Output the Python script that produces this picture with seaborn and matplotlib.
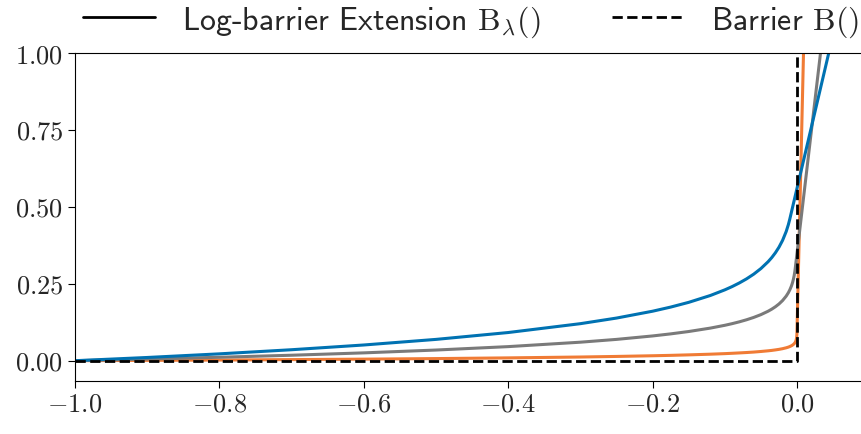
import matplotlib
matplotlib.use('Agg')
import matplotlib.pyplot as plt
from matplotlib.lines import Line2D
from matplotlib.ticker import FuncFormatter, FixedLocator
import seaborn as sns

# values
x_vals = [-1.0, -0.9, -0.8, -0.7, -0.6, -0.5, -0.4, -0.3, -0.25, -0.2, -0.175, -0.15,
          -0.12, -0.1, -0.09, -0.08, -0.07, -0.06, -0.05, -0.04, -0.035, -0.03, -0.025,
          -0.02, -0.015, -0.012, -0.01, -0.008, -0.007, -0.006, -0.005, -0.004, -0.003,
          -0.0025, -0.0015, -0.001, -0.0005, -0.0002, -0.0001, 0.0, 0.05]
ext_t10 = [0.0, 0.0105, 0.0223, 0.0357, 0.0511, 0.0693, 0.0916, 0.1204, 0.1386, 0.1609,
           0.1743, 0.1897, 0.2120, 0.2303, 0.2408, 0.2526, 0.2659, 0.2813, 0.2996, 0.3219,
           0.3352, 0.3507, 0.3689, 0.3912, 0.4200, 0.4423, 0.4605, 0.4805, 0.4905, 0.5005,
           0.5105, 0.5205, 0.5305, 0.5355, 0.5455, 0.5505, 0.5555, 0.5585, 0.5595, 0.5605,
           1.0605]
ext_t20 = [0.0, 0.0053, 0.0112, 0.0178, 0.0255, 0.0347, 0.0458, 0.0602, 0.0693, 0.0805,
           0.0872, 0.0949, 0.1060, 0.1151, 0.1204, 0.1263, 0.1330, 0.1407, 0.1498, 0.1609,
           0.1676, 0.1753, 0.1844, 0.1956, 0.2100, 0.2211, 0.2303, 0.2414, 0.2481, 0.2558,
           0.2649, 0.2761, 0.2905, 0.2996, 0.3196, 0.3296, 0.3396, 0.3456, 0.3476, 0.3496,
           1.3496]
ext_t100 = [0.0, 0.0011, 0.0022, 0.0036, 0.0051, 0.0069, 0.0092, 0.0120, 0.0139, 0.0161,
            0.0174, 0.0190, 0.0212, 0.0230, 0.0241, 0.0253, 0.0266, 0.0281, 0.0300, 0.0322,
            0.0335, 0.0351, 0.0369, 0.0391, 0.0420, 0.0442, 0.0461, 0.0483, 0.0496, 0.0512,
            0.0530, 0.0552, 0.0581, 0.0599, 0.0650, 0.0691, 0.0760, 0.0852, 0.0921, 0.1021,
            5.1021]
barrier_x = [-1.0, 0.0, 0.0]
barrier_y = [0.0, 0.0, 1.0]

x_ticks = [-1.0, -0.8, -0.6, -0.4, -0.2, 0.0]
y_ticks = [0.0, 0.25, 0.5, 0.75, 1.0]

sns.set_style('ticks')
plt.rcParams['mathtext.fontset'] = 'cm'
plt.rcParams['font.family'] = ['cmss10', 'DejaVu Sans']
plt.rcParams['axes.unicode_minus'] = False

fig = plt.figure(figsize=(8.61, 4.35), dpi=100)
ax = fig.add_axes([0.0871, 0.1218, 0.9129, 0.754])

# extension curves for three values of t, then the hard barrier on top
sns.lineplot(x=x_vals, y=ext_t100, ax=ax, color='#f07b35', lw=2.2, estimator=None, sort=False)
sns.lineplot(x=x_vals, y=ext_t20, ax=ax, color='#7a7a7a', lw=2.2, estimator=None, sort=False)
sns.lineplot(x=x_vals, y=ext_t10, ax=ax, color='#0072b2', lw=2.2, estimator=None, sort=False)
sns.lineplot(x=barrier_x, y=barrier_y, ax=ax, color='black', lw=2, linestyle='--',
             estimator=None, sort=False)

ax.set_xlim(-1.0, 0.0886)
ax.set_ylim(-0.066, 1.0)
ax.xaxis.set_major_locator(FixedLocator(x_ticks))
ax.yaxis.set_major_locator(FixedLocator(y_ticks))
ax.xaxis.set_major_formatter(FuncFormatter(lambda v, p: f'${v:.1f}$'))
ax.yaxis.set_major_formatter(FuncFormatter(lambda v, p: f'${v:.2f}$'))
ax.tick_params(labelsize=19, length=5, color='black')
ax.spines['right'].set_visible(False)
for s in ['left', 'top', 'bottom']:
    ax.spines[s].set_color('black')

handles = [Line2D([], [], color='black', lw=2),
           Line2D([], [], color='black', lw=2, linestyle='--')]
labels = [r'Log-barrier Extension $\mathrm{B}_\lambda()$', r'Barrier $\mathrm{B}()$']
fig.legend(handles, labels, loc='upper center', bbox_to_anchor=(0.547, 1.02), ncol=2,
           frameon=False, fontsize=23, handlelength=2.25, handletextpad=0.85,
           columnspacing=2.25, borderaxespad=0)

fig.savefig('out.png', dpi=100)
